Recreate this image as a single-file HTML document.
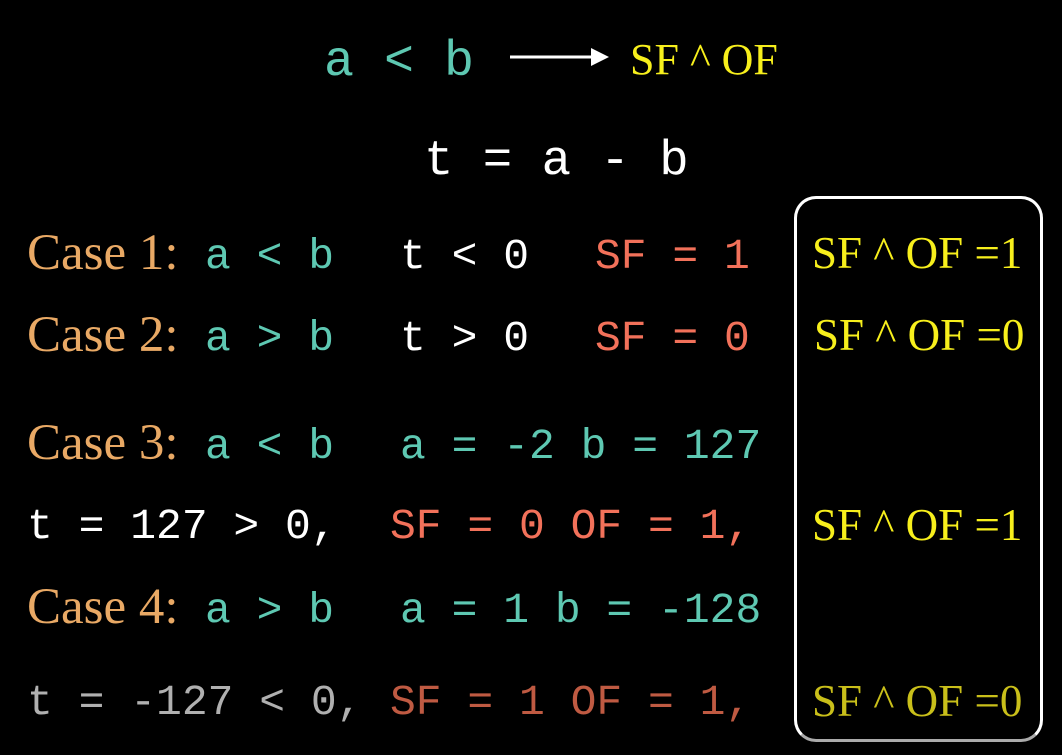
<!DOCTYPE html>
<html><head><meta charset="utf-8"><style>
body{margin:0;width:1062px;height:755px;background:#000;overflow:hidden;position:relative}
.t{position:absolute;white-space:pre;line-height:1}
.m{font-family:"Liberation Mono",monospace;font-size:43px}
.s{font-family:"Liberation Serif",serif;font-size:51px;color:#e9a965}
.y{font-family:"Liberation Serif",serif;font-size:45px;color:#f7ef1c}
.tl{color:#5ec8b2}.w{color:#fff}.r{color:#f2715a}
</style></head><body>
<div class="t m tl" style="left:324px;top:38px;font-size:50px">a &lt; b</div>
<svg style="position:absolute;left:505px;top:44px" width="110" height="26"><line x1="5" y1="13" x2="88" y2="13" stroke="#fff" stroke-width="3"/><polygon points="86,4 104,13 86,22" fill="#fff"/></svg>
<div class="t y" style="left:630px;top:38px;font-size:44px">SF ^ OF</div>
<div class="t m w" style="left:424px;top:137px;font-size:49px">t = a - b</div>

<div class="t s" style="left:27px;top:228px">Case 1:</div>
<div class="t m tl" style="left:205px;top:235px">a &lt; b</div>
<div class="t m w" style="left:400px;top:235px">t &lt; 0</div>
<div class="t m r" style="left:595px;top:235px">SF = 1</div>
<div class="t y" style="left:812px;top:231px">SF ^ OF =1</div>

<div class="t s" style="left:27px;top:310px">Case 2:</div>
<div class="t m tl" style="left:205px;top:317px">a &gt; b</div>
<div class="t m w" style="left:400px;top:317px">t &gt; 0</div>
<div class="t m r" style="left:595px;top:317px">SF = 0</div>
<div class="t y" style="left:814px;top:313px">SF ^ OF =0</div>

<div class="t s" style="left:27px;top:418px">Case 3:</div>
<div class="t m tl" style="left:205px;top:425px">a &lt; b</div>
<div class="t m tl" style="left:400px;top:425px">a = -2 b = 127</div>

<div class="t m w" style="left:27px;top:505px">t = 127 &gt; 0,</div>
<div class="t m r" style="left:390px;top:505px">SF = 0 OF = 1,</div>
<div class="t y" style="left:812px;top:503px">SF ^ OF =1</div>

<div class="t s" style="left:27px;top:582px">Case 4:</div>
<div class="t m tl" style="left:205px;top:589px">a &gt; b</div>
<div class="t m tl" style="left:400px;top:589px">a = 1 b = -128</div>

<div class="t m" style="left:27px;top:681px;color:#b0b0b0">t = -127 &lt; 0,</div>
<div class="t m" style="left:390px;top:681px;color:#bf5a42">SF = 1 OF = 1,</div>
<div class="t y" style="left:812px;top:679px;color:#c9bf1a">SF ^ OF =0</div>

<div style="position:absolute;left:794px;top:196px;width:243px;height:540px;border:3px solid #fff;border-bottom-color:#aaa;border-radius:22px;box-sizing:content-box"></div>
</body></html>
